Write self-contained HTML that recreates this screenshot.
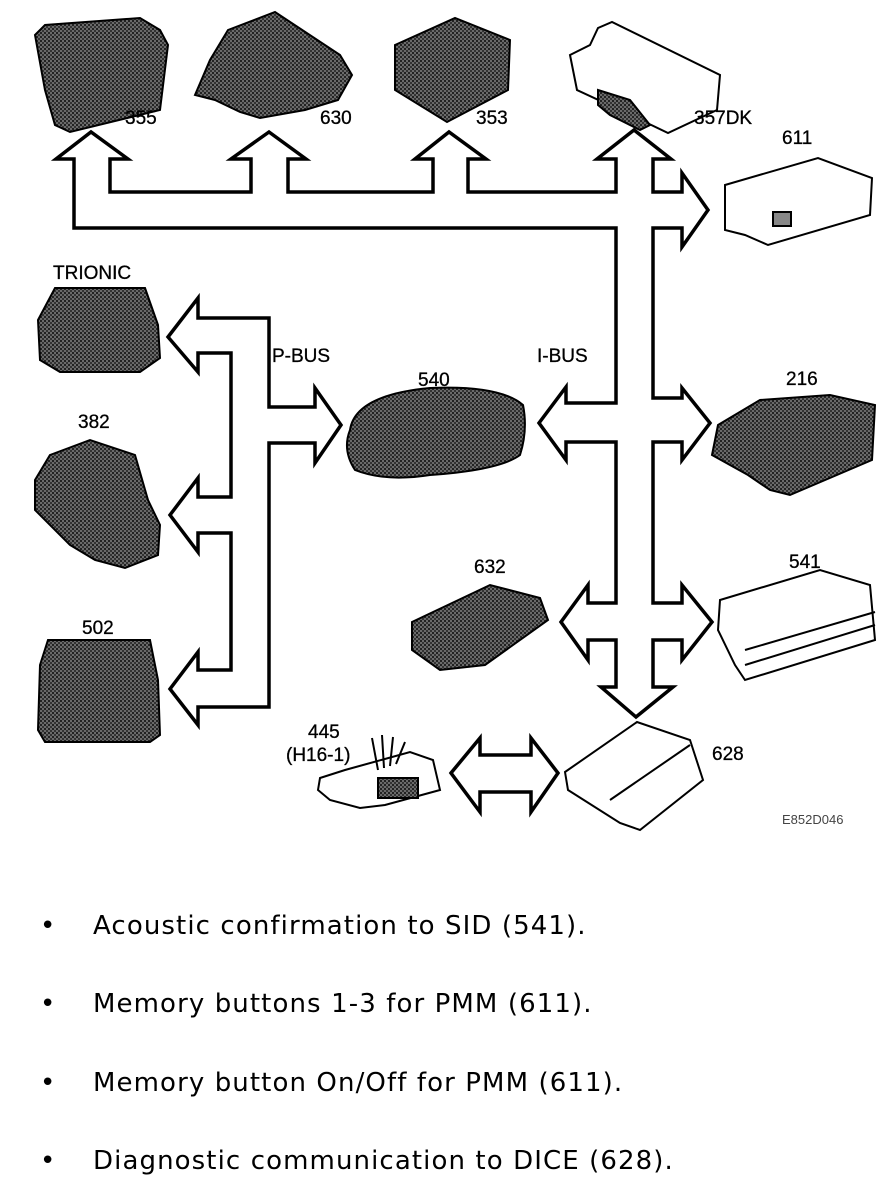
<!DOCTYPE html>
<html><head><meta charset="utf-8"><style>
html,body{margin:0;padding:0;background:#fff;}
svg{display:block}
.l{font-family:"Liberation Sans",sans-serif;font-size:19px;fill:#000;stroke:#000;stroke-width:0.3}
.b{font-family:"DejaVu Sans",sans-serif;font-size:26px;letter-spacing:1.1px;fill:#000}
</style></head><body>
<svg width="896" height="1184" viewBox="0 0 896 1184" xmlns="http://www.w3.org/2000/svg">
<defs>
<pattern id="h" width="4" height="4" patternUnits="userSpaceOnUse">
<rect width="4" height="4" fill="#6a6a6a"/><rect width="2" height="2" fill="#222"/><rect x="2" y="2" width="2" height="2" fill="#333"/>
</pattern>
</defs>
<g fill="none" stroke="#000" stroke-width="3.5" stroke-linejoin="miter">
<polygon points="74,228 74,159 56,159 91,132 128,159 110,159 110,192 251,192 251,159 231,159 269,132 306,159 288,159 288,192 433,192 433,159 415,159 449,132 486,159 468,159 468,192 616,192 616,159 597,159 634,130 671,159 653,159 653,192 682,192 682,173 708,210 682,247 682,228 653,228 653,398 682,398 682,388 710,423 682,460 682,442 653,442 653,603 682,603 682,585 712,622 682,660 682,640 653,640 653,687 673,687 636,717 601,687 616,687 616,640 588,640 588,660 561,622 588,585 588,603 616,603 616,442 566,442 566,460 539,423 566,387 566,403 616,403 616,228" fill="#fff"/>
<polygon points="198,318 269,318 269,407 315,407 315,388 341,425 315,463 315,443 269,443 269,707 198,707 198,725 170,689 198,652 198,670 231,670 231,533 198,533 198,552 170,515 198,478 198,497 231,497 231,353 198,353 198,372 168,337 198,298" fill="#fff"/>
<polygon points="451,773 480,738 480,755 531,755 531,738 558,773 531,812 531,792 480,792 480,812" fill="#fff"/>
</g>
<g stroke="#000" stroke-width="2" fill="url(#h)">
<polygon points="35,35 45,25 140,18 160,30 168,45 160,110 70,132 55,125 45,90"/>
<polygon points="195,95 210,60 228,30 275,12 340,55 352,75 338,100 305,110 260,118 240,112 215,100"/>
<polygon points="395,45 455,18 510,40 508,90 447,122 395,90"/>
<polygon points="55,288 145,288 158,325 160,358 140,372 60,372 40,360 38,320"/>
<polygon points="50,455 90,440 135,455 148,500 160,525 158,555 125,568 95,560 70,545 35,510 35,480"/>
<polygon points="48,640 150,640 158,680 160,735 150,742 45,742 38,730 40,665"/>
<path d="M350,430 Q355,395 430,388 Q500,385 523,405 Q528,430 520,455 Q500,470 430,475 Q385,482 355,470 Q342,450 350,430Z"/>
<polygon points="718,425 760,400 830,395 875,405 872,460 790,495 770,490 748,475 712,455"/>
<polygon points="412,622 490,585 540,598 548,620 485,665 440,670 412,650"/>
</g>
<g stroke="#000" stroke-width="2" fill="#fff">
<polygon points="570,55 590,45 598,28 612,22 720,75 717,110 668,133 620,110 577,90"/>
<polygon points="598,90 630,100 650,125 640,130 610,115 598,105" fill="url(#h)"/>
<polygon points="725,185 818,158 872,178 870,215 768,245 745,235 725,230"/>
<rect x="773" y="212" width="18" height="14" fill="#888"/>
<polygon points="720,600 820,570 870,585 875,640 745,680 735,665 718,630"/>
<line x1="745" y1="650" x2="875" y2="612"/><line x1="745" y1="665" x2="875" y2="625"/>
<polygon points="565,772 637,722 690,740 703,780 640,830 620,823 568,790"/>
<line x1="610" y1="800" x2="690" y2="745"/>
<polygon points="320,778 345,770 410,752 433,760 440,790 385,805 360,808 330,800 318,790"/>
<rect x="378" y="778" width="40" height="20" fill="url(#h)"/>
<path d="M378,770 L372,738 M384,768 L382,735 M390,766 L393,737 M396,764 L405,742" fill="none"/>
</g>
<text class="l" x="125" y="124" style="paint-order:stroke">355</text>
<text class="l" x="320" y="124">630</text>
<text class="l" x="476" y="124">353</text>
<text class="l" x="694" y="124">357DK</text>
<text class="l" x="782" y="144">611</text>
<text class="l" x="53" y="279">TRIONIC</text>
<text class="l" x="78" y="428">382</text>
<text class="l" x="82" y="634">502</text>
<text class="l" x="272" y="362">P-BUS</text>
<text class="l" x="537" y="362">I-BUS</text>
<text class="l" x="418" y="386">540</text>
<text class="l" x="786" y="385">216</text>
<text class="l" x="474" y="573">632</text>
<text class="l" x="789" y="568">541</text>
<text class="l" x="308" y="738">445</text>
<text class="l" x="286" y="761">(H16-1)</text>
<text class="l" x="712" y="760">628</text>
<text x="782" y="824" style="font-family:'Liberation Sans',sans-serif;font-size:13px;fill:#444">E852D046</text>
<text class="b" x="40" y="934">•</text><text class="b" x="93" y="934">Acoustic confirmation to SID (541).</text>
<text class="b" x="40" y="1012">•</text><text class="b" x="93" y="1012">Memory buttons 1-3 for PMM (611).</text>
<text class="b" x="40" y="1091">•</text><text class="b" x="93" y="1091">Memory button On/Off for PMM (611).</text>
<text class="b" x="40" y="1169">•</text><text class="b" x="93" y="1169">Diagnostic communication to DICE (628).</text>
</svg>
</body></html>
